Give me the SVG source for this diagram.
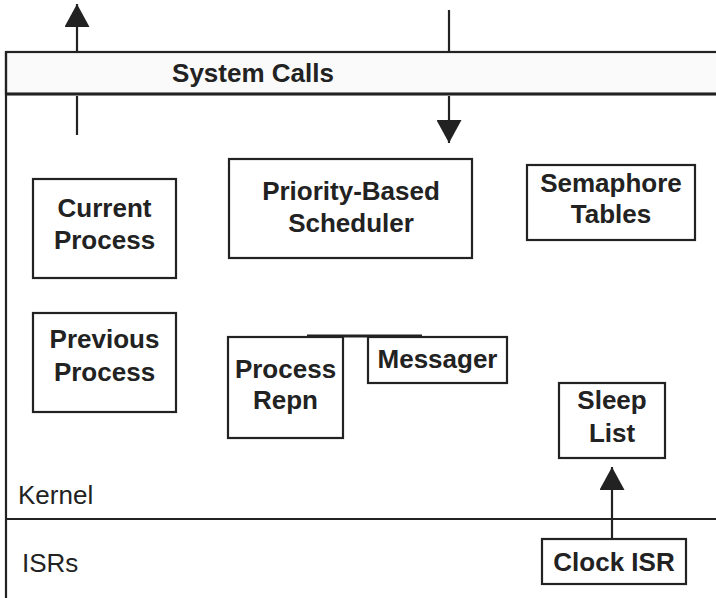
<svg xmlns="http://www.w3.org/2000/svg" width="716" height="598" viewBox="0 0 716 598">
<style>
.box{fill:#fff;stroke:#222;stroke-width:2.2}
.t{font-family:"Liberation Sans",Arial,sans-serif;font-weight:bold;font-size:26px;fill:#222;text-anchor:middle}
.r{font-family:"Liberation Sans",Arial,sans-serif;font-size:26px;fill:#222}
.ln{stroke:#222;stroke-width:2.2;fill:none}
</style>
<defs>
<marker id="ah" viewBox="0 0 23 25" refX="23" refY="12.5" markerWidth="23" markerHeight="25" markerUnits="userSpaceOnUse" orient="auto">
<path d="M0,0 L23,12.5 L0,25 Z" fill="#222"/>
</marker>
</defs>
<rect width="716" height="598" fill="#fff"/>
<g id="frame">
<rect x="6" y="52" width="712" height="42" fill="#fafafa" stroke="#222" stroke-width="2.2"/>
<line x1="6" y1="94" x2="716" y2="94" stroke="#222" stroke-width="3"/>
<line class="ln" x1="6" y1="52" x2="6" y2="598"/>
<line class="ln" x1="6" y1="519" x2="716" y2="519"/>
<text class="t" x="253" y="82" style="text-anchor:middle">System Calls</text>
<text class="r" x="18" y="504">Kernel</text>
<text class="r" x="22" y="572">ISRs</text>
</g>
<g id="connectors">
<line class="ln" x1="77" y1="135" x2="77" y2="96"/>
<line class="ln" x1="77" y1="52" x2="77" y2="4" marker-end="url(#ah)"/>
<line class="ln" x1="449" y1="10" x2="449" y2="52"/>
<line class="ln" x1="449" y1="96" x2="449" y2="143" marker-end="url(#ah)"/>
<line class="ln" x1="612" y1="538" x2="612" y2="467" marker-end="url(#ah)"/>
<line x1="307" y1="336" x2="422" y2="336" stroke="#222" stroke-width="3"/>
</g>
<g id="current-process">
<rect class="box" x="33" y="179" width="143" height="99"/>
<text class="t" x="104.5" y="217">Current</text>
<text class="t" x="104.5" y="249">Process</text>
</g>
<g id="previous-process">
<rect class="box" x="33" y="313" width="143" height="99"/>
<text class="t" x="104.5" y="348">Previous</text>
<text class="t" x="104.5" y="381">Process</text>
</g>
<g id="scheduler">
<rect class="box" x="229" y="159" width="243" height="99"/>
<text class="t" x="351" y="200">Priority-Based</text>
<text class="t" x="351" y="232">Scheduler</text>
</g>
<g id="semaphore-tables">
<rect class="box" x="527" y="165" width="168" height="75"/>
<text class="t" x="611" y="192">Semaphore</text>
<text class="t" x="611" y="223">Tables</text>
</g>
<g id="process-repn">
<rect class="box" x="228" y="337" width="115" height="101"/>
<text class="t" x="285.5" y="378">Process</text>
<text class="t" x="285.5" y="409">Repn</text>
</g>
<g id="messager">
<rect class="box" x="368" y="337" width="139" height="46"/>
<text class="t" x="437.5" y="368">Messager</text>
</g>
<g id="sleep-list">
<rect class="box" x="559" y="383" width="106" height="75"/>
<text class="t" x="612" y="409">Sleep</text>
<text class="t" x="612" y="442">List</text>
</g>
<g id="clock-isr">
<rect class="box" x="542" y="539" width="144" height="45"/>
<text class="t" x="614" y="571">Clock ISR</text>
</g>
</svg>
